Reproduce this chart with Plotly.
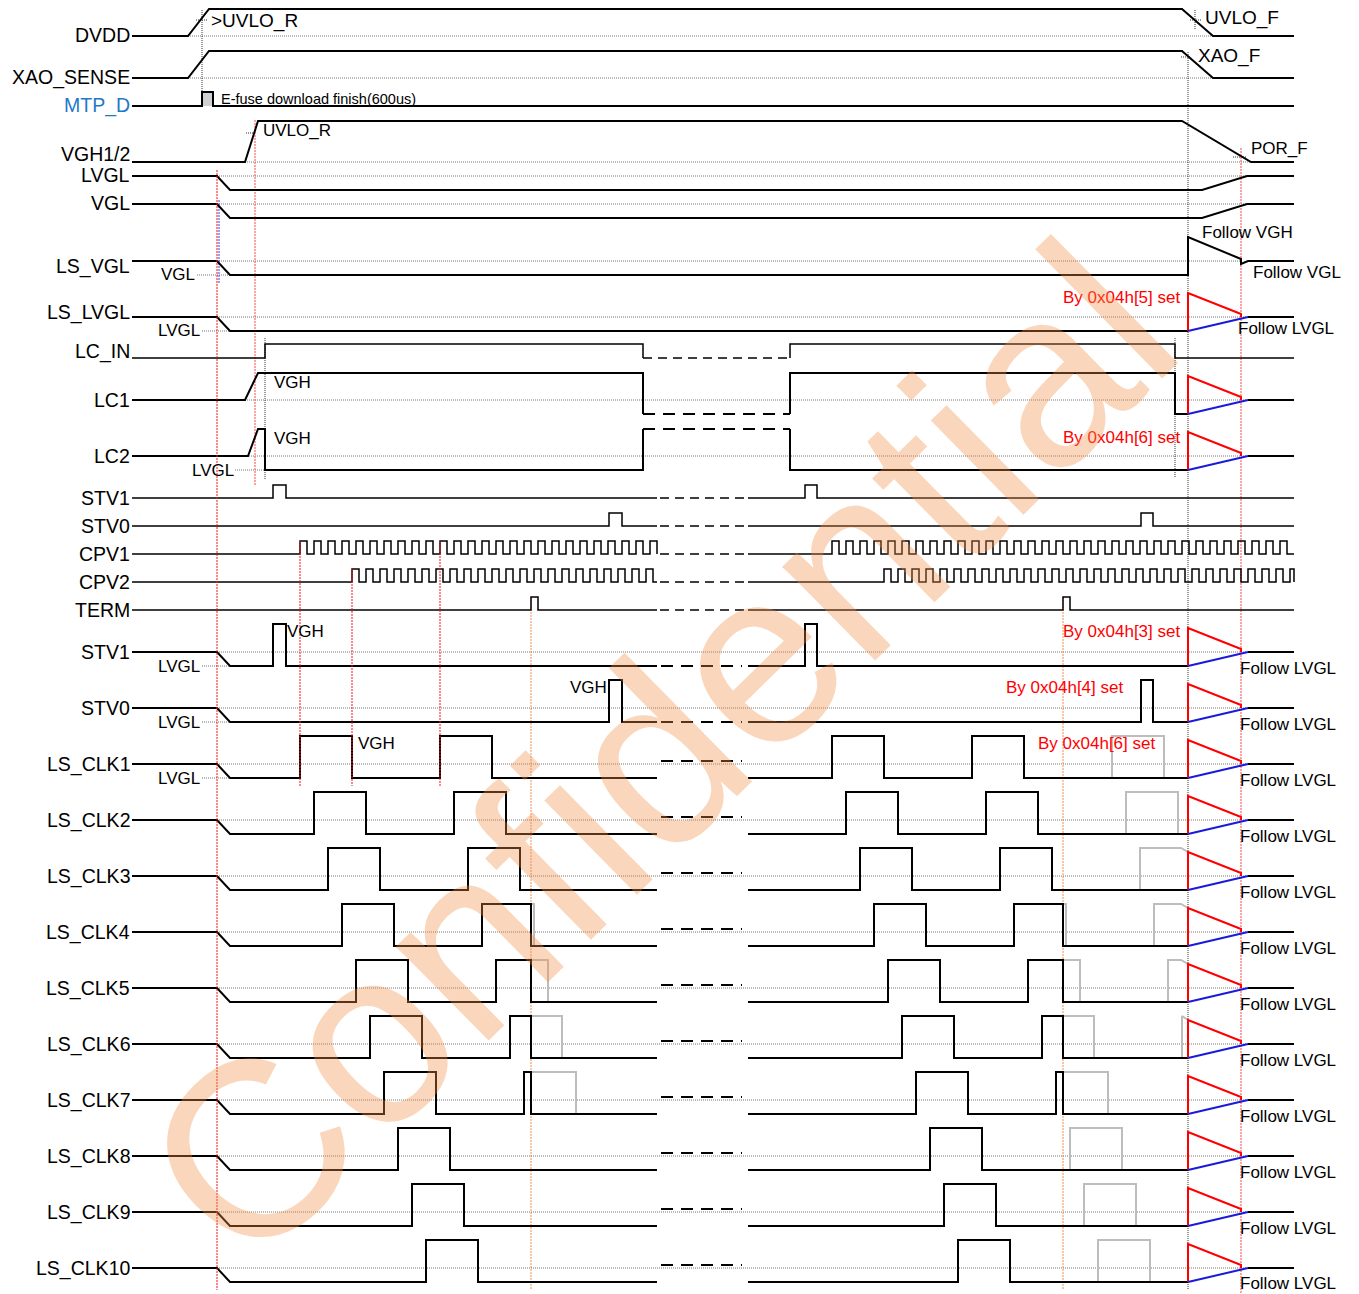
import plotly.graph_objects as go
from collections import defaultdict

# ---------------- data: time positions along the diagram, rows top -> bottom ----------------
ROW_NAMES = ["DVDD", "XAO_SENSE", "MTP_D", "VGH1/2", "LVGL", "VGL", "LS_VGL", "LS_LVGL",
             "LC_IN", "LC1", "LC2", "STV1", "STV0", "CPV1", "CPV2", "TERM",
             "STV1", "STV0", "LS_CLK1", "LS_CLK2", "LS_CLK3", "LS_CLK4", "LS_CLK5",
             "LS_CLK6", "LS_CLK7", "LS_CLK8", "LS_CLK9", "LS_CLK10"]
ROW_Y = [35, 77, 105, 154, 175, 203, 266, 312, 351, 400, 456, 498, 526, 554, 582, 610,
         652, 708, 764, 820, 876, 932, 988, 1044, 1100, 1156, 1212, 1268]

T0, T_END = 132, 1294
SUPPLY_RISE = [188, 209]
SUPPLY_FALL = [1182, 1213]
MTP_PULSE = [202, 213]
VGH_RISE = [245, 258]
VGH_FALL = [1182, 1251]
NEG_FALL = [217, 230]
NEG_RISE = [1202, 1247]
LS_OFF, POR_T, LS_SETTLE = 1188, 1241, 1248
LC_EDGES = [265, 643, 790, 1175]
BREAK = [657, 748]
STV1_PULSES = [[273, 286], [805, 817]]
STV0_PULSES = [[609, 622], [1141, 1153]]
TERM_PULSES = [[531, 538], [1063, 1070]]
CPV_PERIOD, CPV_HIGH = 14, 7
CPV1_SPANS = [[300, 657], [832, 1294]]
CPV2_SPANS = [[352, 657], [884, 1294]]
CLK_WIDTH = 52
CLK_STARTS = [
    [300, 440, 832, 972, 1112],
    [314, 454, 846, 986, 1126],
    [328, 468, 860, 1000, 1140],
    [342, 482, 874, 1014, 1154],
    [356, 496, 888, 1028, 1168],
    [370, 510, 902, 1042, 1182],
    [384, 524, 916, 1056],
    [398, 930, 1070],
    [412, 944, 1084],
    [426, 958, 1098],
]
REG_NOTES = ["By 0x04h[5] set", "By 0x04h[6] set", "By 0x04h[3] set",
             "By 0x04h[4] set", "By 0x04h[6] set"]

# page body margin compensation (html body has an 8px margin)
PAGE_OFF = 8
W, H = 1359, 1294

# ---------------- styles ----------------
FONT = "Liberation Sans, Arial, sans-serif"
STYLES = {
    "sig": dict(color="black", width=2),
    "thin": dict(color="black", width=1.5),
    "ref": dict(color="#777777", width=1, dash="1px,1px"),
    "vblack": dict(color="#333333", width=1, dash="1px,1px"),
    "vred": dict(color="#ff1010", width=1, dash="2px,1px"),
    "vpink": dict(color="#ff7070", width=1.3, dash="2px,1px"),
    "vorange": dict(color="#f09050", width=1, dash="2px,1px"),
    "vblue": dict(color="#4040ff", width=1, dash="2px,1px"),
    "red": dict(color="#ff0000", width=2),
    "blue": dict(color="#1a1ad8", width=2),
    "gray": dict(color="#bdbdbd", width=2),
    "gap_thin": dict(color="black", width=1.5, dash="9px,6px"),
    "gap_thick": dict(color="black", width=2, dash="12px,8px"),
}
paths = defaultdict(list)


def add(style, pts):
    paths[style].append(pts)


def pulses_path(pulses, lo, hi, x0, x1):
    pts = [(x0, lo)]
    for s, e in pulses:
        if e <= x0 or s >= x1:
            continue
        s2, e2 = max(s, x0), min(e, x1)
        pts += [(s2, lo), (s2, hi), (e2, hi), (e2, lo)]
    pts.append((x1, lo))
    return pts


def clock(span):
    out, t = [], span[0]
    while t < span[1]:
        out.append((t, min(t + CPV_HIGH, span[1])))
        t += CPV_PERIOD
    return out


def discharge(ref, lo):
    add("red", [(LS_OFF, lo), (LS_OFF, ref - 24), (POR_T, ref - 3), (POR_T, ref)])
    add("blue", [(LS_OFF, lo), (LS_SETTLE, ref)])
    add("sig", [(LS_SETTLE, ref), (T_END, ref)])


# DVDD / XAO_SENSE
for lo, hi in [(36, 9), (78, 51)]:
    add("sig", [(T0, lo), (SUPPLY_RISE[0], lo), (SUPPLY_RISE[1], hi), (SUPPLY_FALL[0], hi),
                (SUPPLY_FALL[1], lo), (T_END, lo)])
    add("ref", [(SUPPLY_RISE[0], lo), (SUPPLY_FALL[1], lo)])

# MTP_D
add("sig", [(T0, 106), (MTP_PULSE[0], 106), (MTP_PULSE[0], 92), (MTP_PULSE[1], 92),
            (MTP_PULSE[1], 106), (T_END, 106)])

# VGH1/2
add("sig", [(T0, 162), (VGH_RISE[0], 162), (VGH_RISE[1], 121), (VGH_FALL[0], 121),
            (VGH_FALL[1], 162), (T_END, 162)])
add("ref", [(VGH_RISE[0], 162), (VGH_FALL[1], 162)])

# LVGL / VGL
for hi, lo in [(176, 190), (204, 218)]:
    add("sig", [(T0, hi), (NEG_FALL[0], hi), (NEG_FALL[1], lo), (NEG_RISE[0], lo),
                (NEG_RISE[1], hi), (T_END, hi)])
    add("ref", [(NEG_FALL[0], hi), (NEG_RISE[1], hi)])

# LS_VGL
add("sig", [(T0, 261), (NEG_FALL[0], 261), (NEG_FALL[1], 275), (LS_OFF, 275), (LS_OFF, 237),
            (POR_T, 259), (POR_T, 264), (LS_SETTLE, 261), (T_END, 261)])
add("ref", [(NEG_FALL[0], 261), (POR_T, 261)])
add("ref", [(197, 275), (NEG_FALL[1], 275)])

# LS_LVGL
add("sig", [(T0, 317), (NEG_FALL[0], 317), (NEG_FALL[1], 331), (LS_OFF, 331)])
add("ref", [(NEG_FALL[0], 317), (LS_SETTLE, 317)])
add("ref", [(202, 331), (NEG_FALL[1], 331)])
discharge(317, 331)

# LC_IN
add("thin", [(T0, 358), (LC_EDGES[0], 358), (LC_EDGES[0], 344), (LC_EDGES[1], 344), (LC_EDGES[1], 358)])
add("gap_thin", [(LC_EDGES[1], 358), (LC_EDGES[2], 358)])
add("thin", [(LC_EDGES[2], 358), (LC_EDGES[2], 344), (LC_EDGES[3], 344), (LC_EDGES[3], 358), (T_END, 358)])

# LC1
add("sig", [(T0, 400), (VGH_RISE[0], 400), (VGH_RISE[1], 373), (LC_EDGES[1], 373), (LC_EDGES[1], 414)])
add("gap_thick", [(LC_EDGES[1], 414), (LC_EDGES[2], 414)])
add("sig", [(LC_EDGES[2], 414), (LC_EDGES[2], 373), (LC_EDGES[3], 373), (LC_EDGES[3], 414), (LS_OFF, 414)])
add("ref", [(VGH_RISE[0], 400), (LS_SETTLE, 400)])
discharge(400, 414)

# LC2
add("sig", [(T0, 456), (VGH_RISE[0] + 3, 456), (VGH_RISE[1], 429), (LC_EDGES[0], 429),
            (LC_EDGES[0], 470), (LC_EDGES[1], 470), (LC_EDGES[1], 429)])
add("gap_thick", [(LC_EDGES[1], 429), (LC_EDGES[2], 429)])
add("sig", [(LC_EDGES[2], 429), (LC_EDGES[2], 470), (LS_OFF, 470)])
add("ref", [(VGH_RISE[0], 456), (LS_SETTLE, 456)])
add("ref", [(235, 470), (LC_EDGES[0], 470)])
discharge(456, 470)

# digital rows STV1, STV0, CPV1, CPV2, TERM
digital = [
    (498, STV1_PULSES),
    (526, STV0_PULSES),
    (554, clock(CPV1_SPANS[0]) + clock(CPV1_SPANS[1])),
    (582, clock(CPV2_SPANS[0]) + clock(CPV2_SPANS[1])),
    (610, TERM_PULSES),
]
for lo, pl in digital:
    hi = lo - 13
    add("thin", pulses_path(pl, lo, hi, T0, BREAK[0]))
    add("gap_thin", [(BREAK[0] + 3, lo), (BREAK[1] - 3, lo)])
    add("thin", pulses_path(pl, lo, hi, BREAK[1], T_END))

# level-shifted rows
ls_rows = [(652, STV1_PULSES, True), (708, STV0_PULSES, True)]
for k, starts in enumerate(CLK_STARTS):
    ls_rows.append((764 + 56 * k, [[s, s + CLK_WIDTH] for s in starts], False))

for ref, pl, is_stv in ls_rows:
    lo, hi = ref + 14, ref - 28
    for (x0, x1), cut in [((NEG_FALL[1], BREAK[0]), TERM_PULSES[0][0]),
                          ((BREAK[1], LS_OFF), TERM_PULSES[1][0])]:
        black = []
        for s, e in pl:
            if not (x0 <= s < x1):
                continue
            if is_stv or e <= cut:
                black.append((s, e))
            elif s < cut:
                black.append((s, cut))
                add("gray", [(cut, hi), (e, hi), (e, lo)])
            else:
                if e > LS_OFF:
                    add("gray", [(s, lo), (s, hi), (max(s, LS_OFF - 7), hi), (LS_OFF, hi + 4)])
                else:
                    add("gray", [(s, lo), (s, hi), (e, hi), (e, lo)])
        pts = pulses_path(black, lo, hi, x0, x1)
        if x0 == NEG_FALL[1]:
            pts = [(T0, ref), (NEG_FALL[0], ref)] + pts
        add("sig", pts)
    gy = lo if is_stv else ref - 3
    add("gap_thick", [(BREAK[0] + 4, gy), (BREAK[1] - 6, gy)])
    add("ref", [(NEG_FALL[0], ref), (LS_SETTLE, ref)])
    if ref <= 764:
        add("ref", [(202, lo), (NEG_FALL[1], lo)])
    discharge(ref, lo)

# vertical guide lines (time markers)
VLINES = [
    (202, 10, 104, "vblack"), (1195, 10, 30, "vblack"), (LS_OFF, 52, 1290, "vblack"),
    (NEG_FALL[0], 170, 1290, "vred"), (219, 200, 283, "vblue"), (255, 120, 485, "vpink"),
    (LC_EDGES[0], 338, 480, "vblack"), (LC_EDGES[3], 338, 478, "vblack"),
    (POR_T, 148, 1294, "vpink"), (300, 541, 786, "vred"), (352, 569, 786, "vred"),
    (440, 541, 786, "vred"), (TERM_PULSES[0][0], 597, 1290, "vorange"),
    (TERM_PULSES[1][0], 597, 1290, "vorange"),
]
for x, y0, y1, st in VLINES:
    add(st, [(x, y0), (x, y1)])
for pts in [[(196, 20), (207, 20)], [(246, 133), (256, 133)], [(1190, 20), (1201, 20)],
            [(1181, 57), (1190, 57)], [(1233, 157), (1246, 157)]]:
    add("vblack", pts)

fig = go.Figure()
# MTP_D pulse fill
fig.add_trace(go.Scatter(x=[MTP_PULSE[0], MTP_PULSE[0], MTP_PULSE[1], MTP_PULSE[1]],
                         y=[106, 92, 92, 106], fill="toself", fillcolor="#d0d0d0",
                         line=dict(width=0), mode="lines", hoverinfo="skip"))
order = ["ref", "vblack", "vpink", "vorange", "vblue", "gray", "gap_thin",
         "gap_thick", "thin", "sig", "vred", "red", "blue"]
for st in order:
    xs, ys = [], []
    for pts in paths[st]:
        xs += [p[0] for p in pts] + [None]
        ys += [p[1] for p in pts] + [None]
    fig.add_trace(go.Scatter(x=xs, y=ys, mode="lines", line=STYLES[st],
                             hoverinfo="skip", connectgaps=False, cliponaxis=False))

ann = []
for name, y in zip(ROW_NAMES, ROW_Y):
    ann.append(dict(text=name, x=T0, y=y, xanchor="right", yanchor="middle",
                    font=dict(size=19.5, color="#1f78c8" if name == "MTP_D" else "black", family=FONT)))


def txt(t, x, y, anchor="left", size=17, color="black"):
    ann.append(dict(text=t, x=x, y=y, xanchor=anchor, yanchor="middle",
                    font=dict(size=size, color=color, family=FONT)))


txt(">UVLO_R", 209, 21, size=19)
txt("UVLO_F", 1203, 18, size=19)
txt("XAO_F", 1196, 56, size=19)
txt("E-fuse download finish(600us)", 219, 99, size=14.5)
txt("UVLO_R", 261, 130)
txt("POR_F", 1249, 148)
txt("Follow VGH", 1200, 232)
txt("Follow VGL", 1251, 272)
txt("Follow LVGL", 1236, 328)
txt("VGL", 197, 274, "right")
txt("LVGL", 202, 330, "right")
txt("VGH", 272, 382)
txt("VGH", 272, 438)
txt("LVGL", 236, 470, "right")
txt("VGH", 285, 631)
txt("VGH", 609, 687, "right")
txt("VGH", 356, 743)
for ref, _, _ in ls_rows:
    txt("Follow LVGL", 1238, min(ref + 16, 1283))
    if ref <= 764:
        txt("LVGL", 202, ref + 14, "right")
for note, (x, y) in zip(REG_NOTES, [(1182, 297), (1182, 437), (1182, 631), (1125, 687), (1157, 743)]):
    txt(note, x, y, "right", color="#ff0000")

# watermark
ann.append(dict(text="Confidential", x=658, y=752, xanchor="center", yanchor="middle",
                textangle=-44.5, font=dict(size=250, color="rgba(240,140,70,0.36)", family=FONT)))
for a in ann:
    a.update(showarrow=False, xref="x", yref="y")

fig.update_layout(
    width=W - PAGE_OFF, height=H - PAGE_OFF, margin=dict(l=0, r=0, t=0, b=0),
    paper_bgcolor="white", plot_bgcolor="white", showlegend=False,
    xaxis=dict(range=[PAGE_OFF, W], visible=False, fixedrange=True),
    yaxis=dict(range=[H, PAGE_OFF], visible=False, fixedrange=True),
    annotations=ann,
)
fig.write_html("out.html")
